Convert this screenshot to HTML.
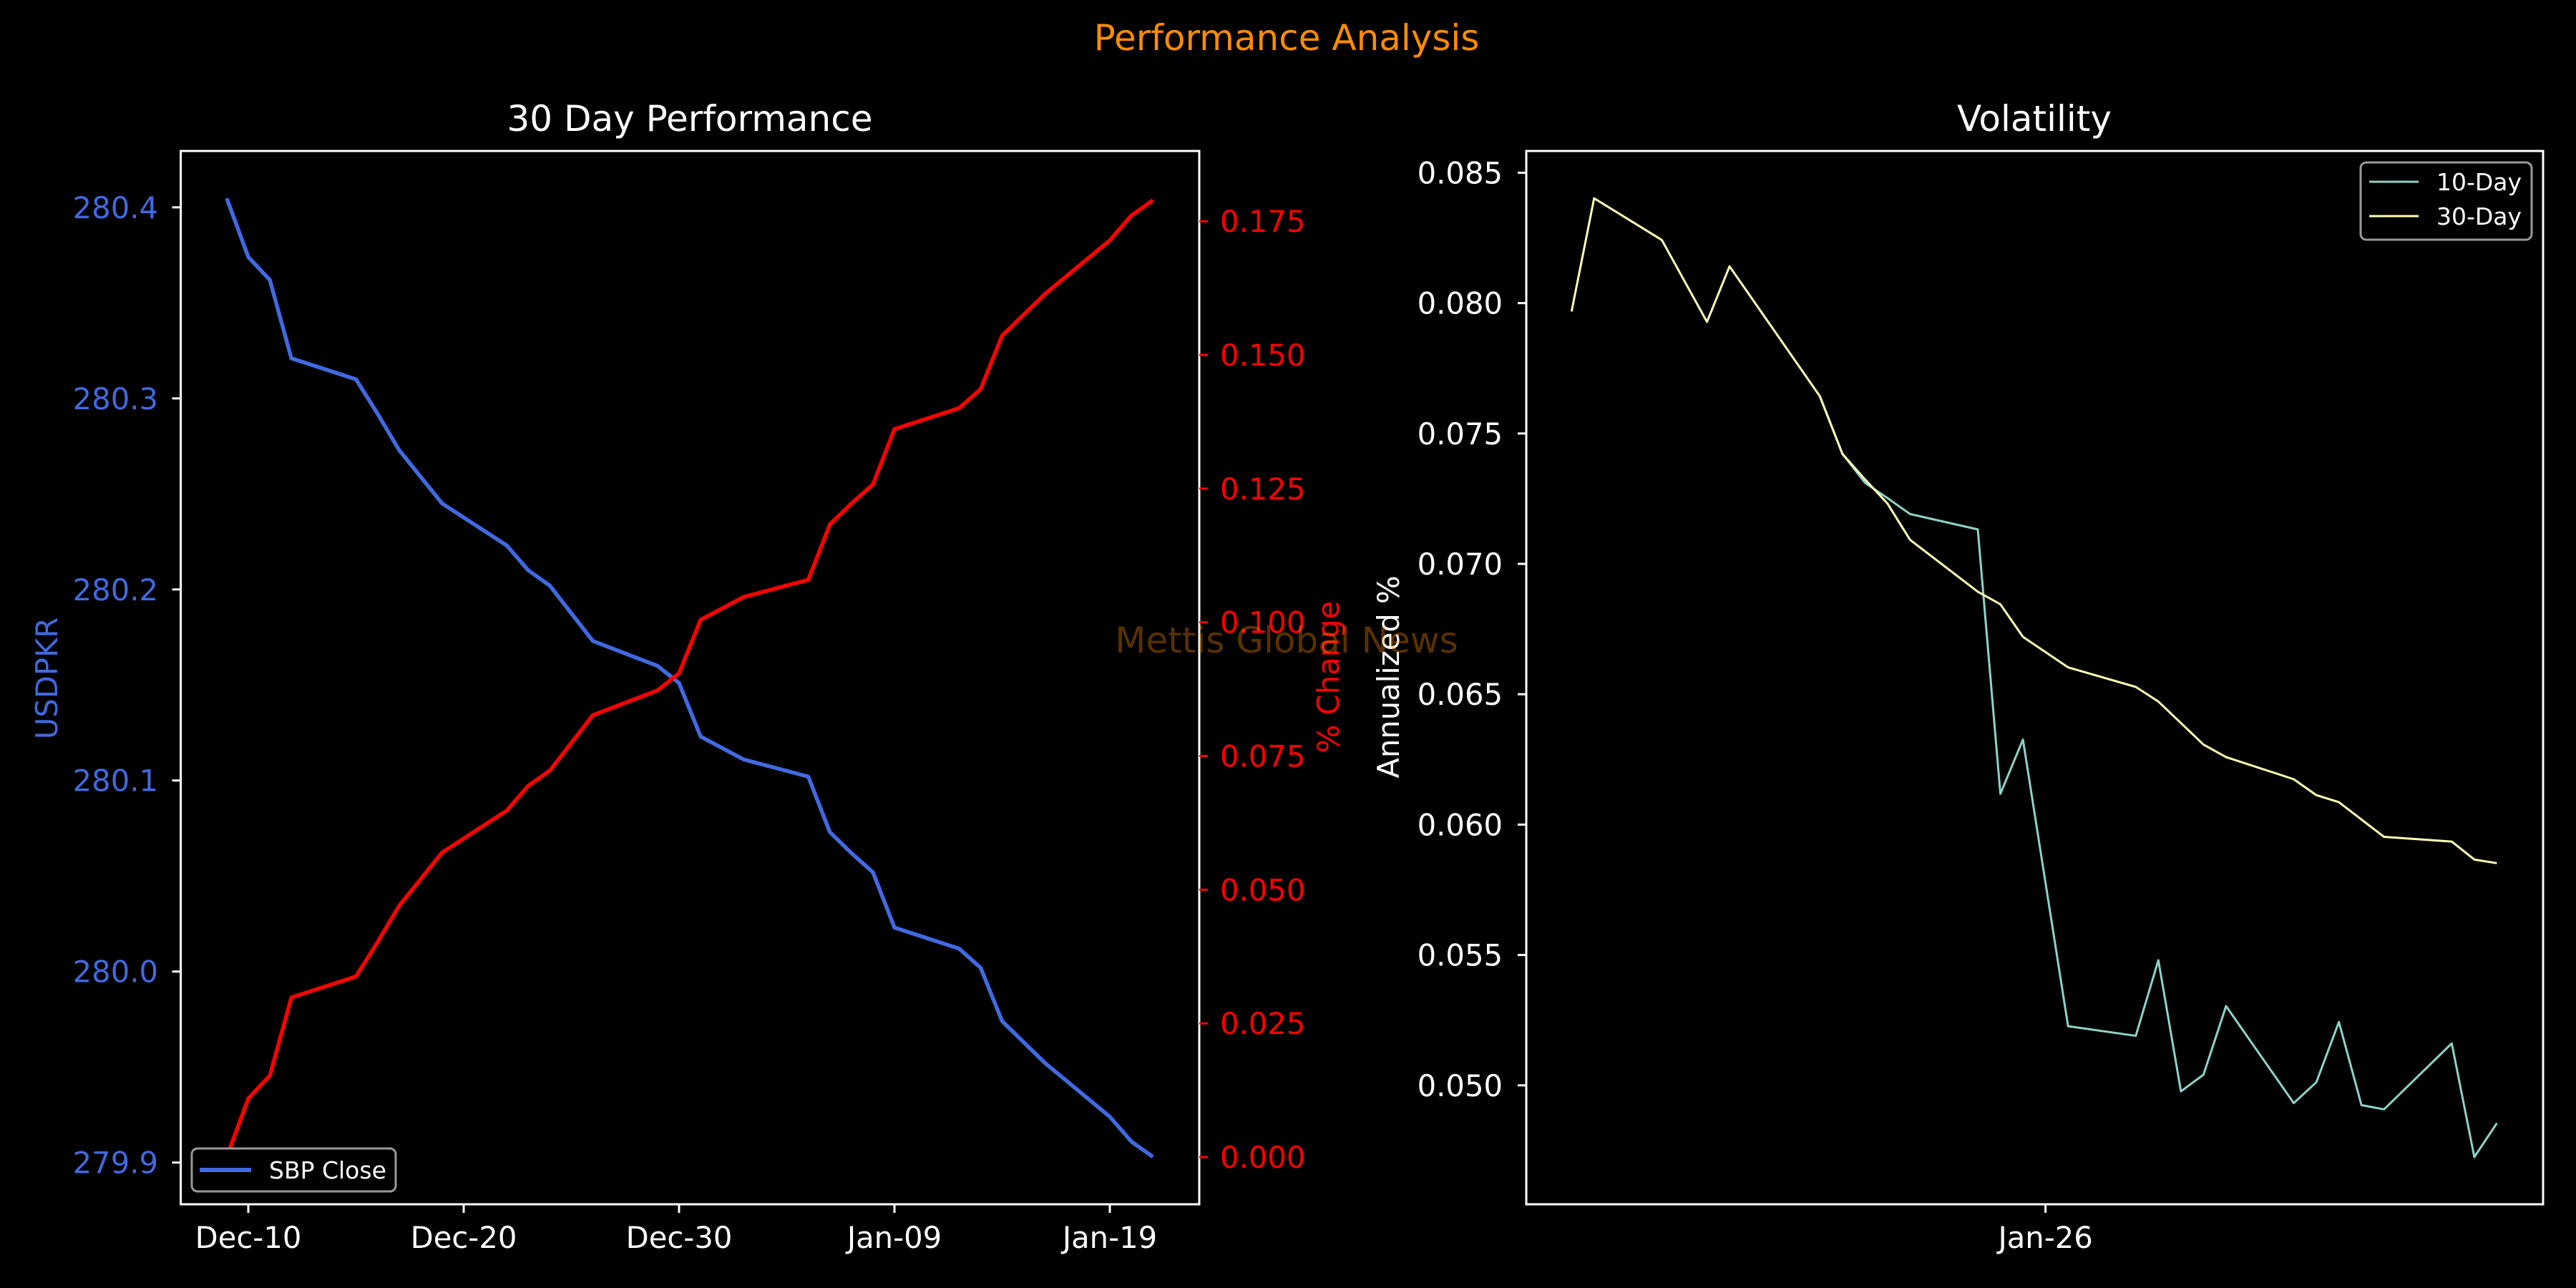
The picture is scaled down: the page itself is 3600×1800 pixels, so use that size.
<!DOCTYPE html>
<html><head><meta charset="utf-8"><style>
html,body{margin:0;padding:0;background:#000;}
svg{display:block;font-family:"DejaVu Sans","Liberation Sans",sans-serif;}
</style></head><body>
<svg id="fig" width="3600" height="1800" viewBox="0 0 3600 1800" xmlns="http://www.w3.org/2000/svg">
<rect x="0" y="0" width="3600" height="1800" fill="#000"/>
<text x="1798" y="70" font-size="50" fill="#ff8c00" text-anchor="middle">Performance Analysis</text>
<text x="964" y="183" font-size="50" fill="#fff" text-anchor="middle">30 Day Performance</text>
<text x="2843" y="183" font-size="50" fill="#fff" text-anchor="middle">Volatility</text>
<g id="left"></g>
<g id="right"></g>
<text transform="translate(80,948) rotate(-90)" font-size="41.7" fill="#4169e1" text-anchor="middle">USDPKR</text>
<text transform="translate(1871,946) rotate(-90)" font-size="41.7" fill="#ff0000" text-anchor="middle">% Change</text>
<text transform="translate(1955,946) rotate(-90)" font-size="41.7" fill="#fff" text-anchor="middle">Annualized %</text>
<text x="1798" y="912" font-size="50" fill="rgba(255,140,0,0.35)" text-anchor="middle">Mettis Global News</text>
</svg>
<script>
// ---- Left chart data ----
const usdDates = ["2025-12-09","2025-12-10","2025-12-11","2025-12-12","2025-12-15","2025-12-16","2025-12-17","2025-12-18","2025-12-19","2025-12-22","2025-12-23","2025-12-24","2025-12-26","2025-12-29","2025-12-30","2025-12-31","2026-01-02","2026-01-05","2026-01-06","2026-01-07","2026-01-08","2026-01-09","2026-01-12","2026-01-13","2026-01-14","2026-01-15","2026-01-16","2026-01-19","2026-01-20","2026-01-21"];
const usdClose = [280.4047,280.374,280.362,280.321,280.310,280.292,280.273,280.259,280.245,280.223,280.210,280.202,280.173,280.160,280.151,280.123,280.111,280.102,280.073,280.062,280.052,280.023,280.012,280.002,279.974,279.963,279.952,279.924,279.911,279.903];
const usdTicks = [279.9,280.0,280.1,280.2,280.3,280.4];
const usdTickLabels = ["279.9","280.0","280.1","280.2","280.3","280.4"];
const pctTicks = [0,0.025,0.05,0.075,0.1,0.125,0.15,0.175];
const pctTickLabels = ["0.000","0.025","0.050","0.075","0.100","0.125","0.150","0.175"];
const dateTicks = ["2025-12-10","2025-12-20","2025-12-30","2026-01-09","2026-01-19"];
const dateTickLabels = ["Dec-10","Dec-20","Dec-30","Jan-09","Jan-19"];
// ---- Right chart data ----
const vol30Dates = ["2026-01-05","2026-01-06","2026-01-09","2026-01-11","2026-01-12","2026-01-16","2026-01-17","2026-01-18","2026-01-19","2026-01-20","2026-01-23","2026-01-24","2026-01-25","2026-01-27","2026-01-30","2026-01-31","2026-02-02","2026-02-03","2026-02-06","2026-02-07","2026-02-08","2026-02-10","2026-02-13","2026-02-14","2026-02-15"];
const vol30 = [0.07968,0.08402,0.08242,0.07928,0.08141,0.07643,0.07422,0.07324,0.07231,0.07092,0.06893,0.06845,0.06720,0.06603,0.06528,0.06472,0.06307,0.06259,0.06174,0.06113,0.06086,0.05953,0.05935,0.05866,0.05852];
const vol10Dates = ["2026-01-16","2026-01-17","2026-01-18","2026-01-19","2026-01-20","2026-01-23","2026-01-24","2026-01-25","2026-01-27","2026-01-30","2026-01-31","2026-02-01","2026-02-02","2026-02-03","2026-02-06","2026-02-07","2026-02-08","2026-02-09","2026-02-10","2026-02-13","2026-02-14","2026-02-15"];
const vol10 = [0.07643,0.07422,0.07311,0.07252,0.07191,0.07132,0.06118,0.06326,0.05227,0.05190,0.05480,0.04977,0.05041,0.05304,0.04932,0.05012,0.05243,0.04924,0.04908,0.05161,0.04725,0.04855];
const volTicks = [0.05,0.055,0.06,0.065,0.07,0.075,0.08,0.085];
const volTickLabels = ["0.050","0.055","0.060","0.065","0.070","0.075","0.080","0.085"];
const volDateTicks = ["2026-01-26"];
const volDateTickLabels = ["Jan-26"];

const NS="http://www.w3.org/2000/svg";
function mk(tag, attrs, parent){const e=document.createElementNS(NS,tag);for(const k in attrs)e.setAttribute(k,attrs[k]);parent.appendChild(e);return e;}
function dayNum(s){return Date.parse(s+"T00:00:00Z")/86400000;}

// left axes
const L={x0:252.6,x1:1676,y0:211,y1:1683};
const xL=d=>347+(dayNum(d)-dayNum("2025-12-10"))*30.1;
const yUsd=v=>1624.7-(v-279.9)/0.5*(1624.7-289.8);
const yPct=v=>1617-v/0.175*(1617-309.2);
const left=document.getElementById('left');

let sp=mk('rect',{x:L.x0,y:L.y0,width:L.x1-L.x0,height:L.y1-L.y0,fill:'none',stroke:'#fff','stroke-width':3},left);



usdTicks.forEach((t,i)=>{const y=yUsd(t);
 let tk=mk('line',{x1:L.x0-12,x2:L.x0,y1:y,y2:y,stroke:'#fff','stroke-width':3},left);
 
 
 let tx=mk('text',{x:221,y:y+15,'font-size':41.7,fill:'#4169e1','text-anchor':'end'},left);tx.textContent=usdTickLabels[i];
 
 
});
pctTicks.forEach((t,i)=>{const y=yPct(t);
 let tk=mk('line',{x1:L.x1,x2:L.x1+12,y1:y,y2:y,stroke:'#ff0000','stroke-width':3},left);
 
 
 let tx=mk('text',{x:1705,y:y+15,'font-size':41.7,fill:'#ff0000'},left);tx.textContent=pctTickLabels[i];
 
 
});
dateTicks.forEach((d,i)=>{const x=xL(d);
 let tk=mk('line',{x1:x,x2:x,y1:L.y1,y2:L.y1+12,stroke:'#fff','stroke-width':3},left);
 
 
 let tx=mk('text',{x:x,y:1744,'font-size':41.7,fill:'#fff','text-anchor':'middle'},left);tx.textContent=dateTickLabels[i];
 
 
});
const pct=usdClose.map(v=>(usdClose[0]-v)/usdClose[0]*100);
let blue=mk('polyline',{points:usdDates.map((d,i)=>xL(d)+','+yUsd(usdClose[i])).join(' '),fill:'none',stroke:'#4169e1','stroke-width':5.5,'stroke-linejoin':'round'},left);


let red=mk('polyline',{points:usdDates.map((d,i)=>xL(d)+','+yPct(pct[i])).join(' '),fill:'none',stroke:'#ff0000','stroke-width':5.5,'stroke-linejoin':'round'},left);


let lg=mk('g',{},left);


mk('rect',{x:268,y:1605,width:285,height:60,rx:8,fill:'#000',stroke:'#999','stroke-width':3},lg);
mk('line',{x1:279,x2:351,y1:1635,y2:1635,stroke:'#4169e1','stroke-width':6},lg);
let lt=mk('text',{x:376,y:1647,'font-size':33,fill:'#fff'},lg);lt.textContent='SBP Close';



// right axes
const R={x0:2133,x1:3554,y0:211,y1:1683};
const xR=d=>2196.3+(dayNum(d)-dayNum("2026-01-05"))*31.54;
const yV=v=>241.4+(0.085-v)/0.005*182.2;
const right=document.getElementById('right');
let sp2=mk('rect',{x:R.x0,y:R.y0,width:R.x1-R.x0,height:R.y1-R.y0,fill:'none',stroke:'#fff','stroke-width':3},right);


volTicks.forEach((t,i)=>{const y=yV(t);
 let tk=mk('line',{x1:R.x0-12,x2:R.x0,y1:y,y2:y,stroke:'#fff','stroke-width':3},right);
 
 
 let tx=mk('text',{x:2100,y:y+15,'font-size':41.7,fill:'#fff','text-anchor':'end'},right);tx.textContent=volTickLabels[i];
 
 
});
volDateTicks.forEach((d,i)=>{const x=xR(d);
 let tk=mk('line',{x1:x,x2:x,y1:R.y1,y2:R.y1+12,stroke:'#fff','stroke-width':3},right);
 
 
 let tx=mk('text',{x:x,y:1744,'font-size':41.7,fill:'#fff','text-anchor':'middle'},right);tx.textContent=volDateTickLabels[i];
 
 
});
let l10=mk('polyline',{points:vol10Dates.map((d,i)=>xR(d)+','+yV(vol10[i])).join(' '),fill:'none',stroke:'#8dd3c7','stroke-width':3,'stroke-linejoin':'round'},right);


let l30=mk('polyline',{points:vol30Dates.map((d,i)=>xR(d)+','+yV(vol30[i])).join(' '),fill:'none',stroke:'#ffffb3','stroke-width':3,'stroke-linejoin':'round'},right);


let lg2=mk('g',{},right);


mk('rect',{x:3299,y:227,width:239,height:108,rx:8,fill:'#000',stroke:'#999','stroke-width':3},lg2);
mk('line',{x1:3311,x2:3380,y1:254,y2:254,stroke:'#8dd3c7','stroke-width':3},lg2);
mk('line',{x1:3311,x2:3380,y1:302,y2:302,stroke:'#ffffb3','stroke-width':3},lg2);
let t10=mk('text',{x:3405,y:266,'font-size':33,fill:'#fff'},lg2);t10.textContent='10-Day';


let t30=mk('text',{x:3405,y:314,'font-size':33,fill:'#fff'},lg2);t30.textContent='30-Day';


</script>
</body></html>
